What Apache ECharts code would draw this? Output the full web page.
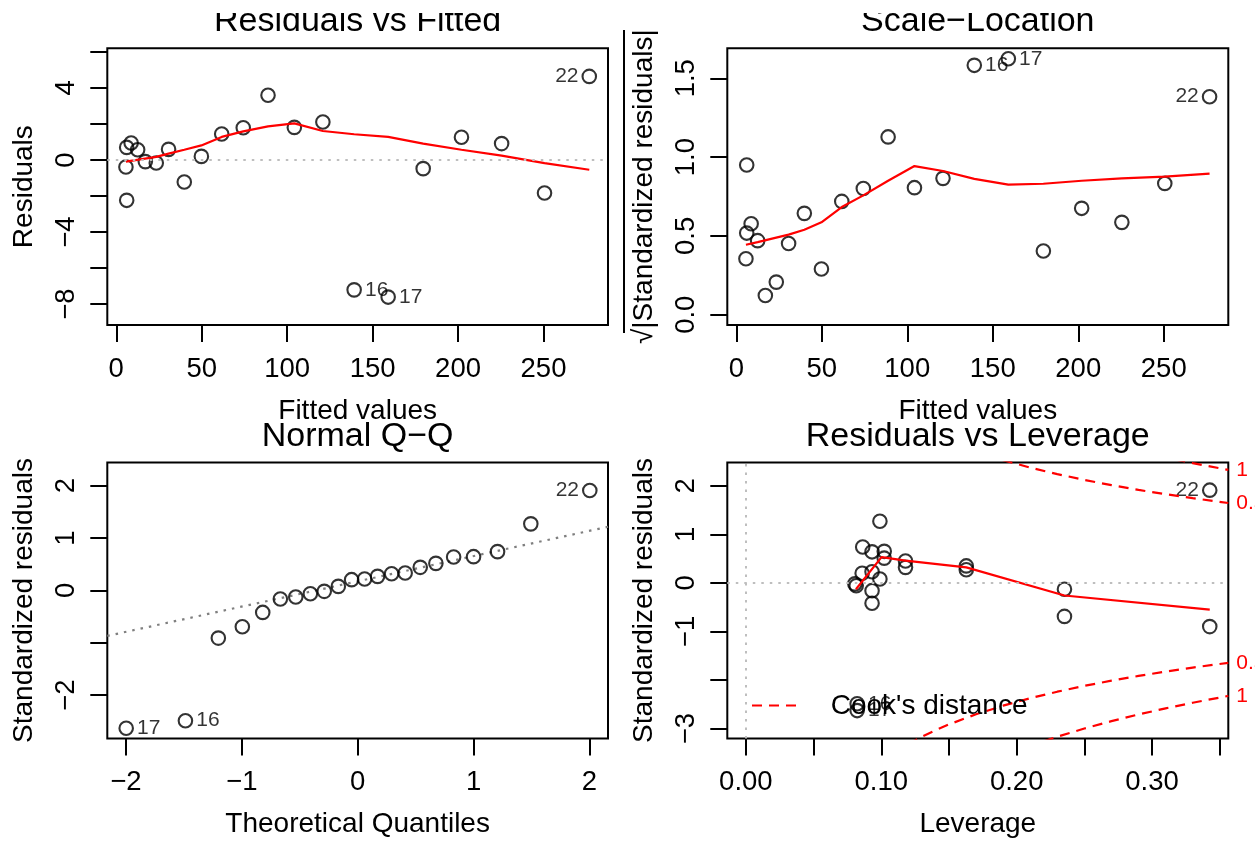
<!DOCTYPE html>
<html><head><meta charset="utf-8">
<script src="https://cdn.jsdelivr.net/npm/echarts@6/dist/echarts.min.js"></script>
<style>html,body{margin:0;padding:0;background:#fff}#c{width:1255px;height:842px}</style>
</head><body><div id="c"></div>
<script>
// ---------- Residuals vs Fitted / Scale-Location (shared fitted values) ----------
const fittedValues = [5.65, 6.1, 6.1, 8.7, 12.5, 17.0, 23.4, 30.6, 39.8, 49.8, 61.7, 74.3, 88.8, 104.2, 120.9, 139.2, 159.1, 179.6, 202.0, 225.5, 250.6, 276.8];
const residualValues = [-0.39, 0.70, -2.24, 0.94, 0.57, -0.09, -0.17, 0.59, -1.22, 0.20, 1.44, 1.79, 3.59, 1.81, 2.11, -7.21, -7.61, -0.48, 1.26, 0.91, -1.83, 4.64];
const sqrtAbsStdResiduals = [0.355, 0.518, 0.950, 0.577, 0.470, 0.122, 0.207, 0.452, 0.643, 0.290, 0.719, 0.801, 1.128, 0.806, 0.865, 1.582, 1.624, 0.404, 0.675, 0.586, 0.833, 1.383];
const fittedLabelIdx = [15, 16, 21];
const fittedLabelTxt = ['16', '17', '22'];

const smoothRvfX = [5.65, 23.4, 30.6, 39.8, 49.8, 61.7, 74.3, 88.8, 104.2, 120.9, 139.2, 159.1, 179.6, 202.0, 225.5, 250.6, 276.8];
const smoothRvfY = [-0.09, 0.17, 0.35, 0.57, 0.81, 1.28, 1.59, 1.87, 2.03, 1.61, 1.43, 1.28, 0.91, 0.57, 0.24, -0.17, -0.54];
const smoothSlX = [5.65, 12.5, 30.6, 39.8, 49.8, 61.7, 74.3, 88.8, 104.2, 120.9, 139.2, 159.1, 179.6, 202.0, 225.5, 250.6, 276.8];
const smoothSlY = [0.444, 0.461, 0.508, 0.539, 0.586, 0.683, 0.757, 0.850, 0.943, 0.912, 0.862, 0.825, 0.831, 0.850, 0.865, 0.876, 0.895];

// ---------- Normal Q-Q ----------
const qqTheoretical = [-1.997, -1.486, -1.202, -0.995, -0.819, -0.667, -0.534, -0.408, -0.288, -0.167, -0.052, 0.060, 0.172, 0.293, 0.410, 0.540, 0.675, 0.828, 1.000, 1.207, 1.494, 2.003];
const qqStdResiduals = [-2.631, -2.486, -0.910, -0.694, -0.420, -0.165, -0.127, -0.063, -0.018, 0.077, 0.205, 0.218, 0.268, 0.319, 0.333, 0.440, 0.516, 0.638, 0.644, 0.740, 1.270, 1.906];
const qqLabelIdx = [0, 1, 21];
const qqLabelTxt = ['17', '16', '22'];
const qqLineX = [-2.16, 2.16];
const qqLineY = [-0.868, 1.214];

// ---------- Residuals vs Leverage ----------
const leverageValues = [0.0990, 0.0863, 0.0932, 0.1022, 0.1022, 0.1179, 0.1179, 0.1628, 0.1628, 0.0859, 0.0932, 0.0990, 0.0805, 0.0815, 0.0932, 0.0932, 0.2353, 0.2353, 0.3426, 0.3426, 0.0822, 0.0822];
const leverageStdRes = [1.27, 0.74, 0.64, 0.65, 0.51, 0.45, 0.32, 0.35, 0.27, 0.20, 0.23, 0.08, -0.02, -0.06, -0.16, -0.42, -0.13, -0.69, -0.90, 1.91, -2.49, -2.63];
const levLabelIdx = [19, 20, 21];
const levLabelTxt = ['22', '16', '17'];
const smoothLevX = [0.0813, 0.1002, 0.1179, 0.1628, 0.2353, 0.3426];
const smoothLevY = [-0.13, 0.53, 0.46, 0.32, -0.26, -0.55];
const cookH = [0.12, 0.13, 0.14, 0.15, 0.17, 0.19, 0.21, 0.23, 0.25, 0.27, 0.29, 0.31, 0.33, 0.3563];
const cookHalf = [3.317, 3.168, 3.036, 2.915, 2.706, 2.529, 2.375, 2.241, 2.121, 2.014, 1.916, 1.827, 1.745, 1.646];
const cookOne = [4.690, 4.481, 4.293, 4.123, 3.827, 3.576, 3.360, 3.169, 3.000, 2.848, 2.710, 2.584, 2.468, 2.328];
const cookLevelY = [2.328, 1.646, -1.646, -2.328];
const cookLevelTxt = ['1', '0.5', '0.5', '1'];

// ---------- axis ticks / labels ----------
const rvfXTicks = [0, 50, 100, 150, 200, 250];
const rvfYTicks = [-8, -6, -4, -2, 0, 2, 4, 6];
const rvfYLabels = [-8, -4, 0, 4];
const slYTicks = [0, 0.5, 1, 1.5];
const qqXTicks = [-2, -1, 0, 1, 2];
const qqYTicks = [-2, -1, 0, 1, 2];
const qqYLabels = [-2, 0, 1, 2];
const levXTicks = [0, 0.05, 0.1, 0.15, 0.2, 0.25, 0.3, 0.35];
const levXLabels = [0, 0.1, 0.2, 0.3];
const levYTicks = [-3, -2, -1, 0, 1, 2];
const levYLabels = [-3, -1, 0, 1, 2];

const titles = ['Residuals vs Fitted', 'Scale\u2212Location', 'Normal Q\u2212Q', 'Residuals vs Leverage'];

const FONT = "'Liberation Sans', Arial, Helvetica, sans-serif";
const TICKFS = 27.5, NAMEFS = 28, TITLEFS = 34, IDFS = 21;

function fmt(dec) {
  return v => (dec == null ? String(v) : Number(v).toFixed(dec)).replace('-', '\u2212');
}
function xAxis(gi, min, max, ticks, labels, dec, name) {
  return {
    type: 'value', gridIndex: gi, min, max, name, nameLocation: 'middle', nameGap: 72,
    nameMoveOverlap: false, position: 'bottom',
    nameTextStyle: { color: '#000', fontSize: NAMEFS, fontFamily: FONT },
    splitLine: { show: false }, axisLine: { show: false, onZero: false },
    axisTick: { show: true, inside: false, length: 17, customValues: ticks, lineStyle: { color: '#000', width: 2 } },
    axisLabel: { show: true, customValues: labels, formatter: fmt(dec), color: '#000', fontSize: TICKFS, fontFamily: FONT, margin: 30, hideOverlap: false }
  };
}
function yAxis(gi, min, max, ticks, labels, dec, name) {
  return {
    type: 'value', gridIndex: gi, min, max, name, nameLocation: 'middle', nameGap: 69, nameRotate: 90,
    nameMoveOverlap: false, position: 'left',
    nameTextStyle: { color: '#000', fontSize: NAMEFS, fontFamily: FONT },
    splitLine: { show: false }, axisLine: { show: false, onZero: false },
    axisTick: { show: true, inside: false, length: 17, customValues: ticks, lineStyle: { color: '#000', width: 2 } },
    axisLabel: { show: true, customValues: labels, formatter: fmt(dec), rotate: 90, color: '#000', fontSize: TICKFS, fontFamily: FONT, margin: 27, hideOverlap: false }
  };
}
function scatter(ai, xs, ys, lblIdx, lblTxt, lblPos, lblDy, zeroLines) {
  const data = xs.map((x, i) => {
    const k = lblIdx.indexOf(i);
    const item = { value: [x, ys[i]] };
    if (k >= 0) item.label = { show: true, formatter: lblTxt[k], position: lblPos[k], distance: 3, offset: [0, lblDy[k]], color: '#000', fontSize: IDFS, fontFamily: FONT };
    return item;
  });
  const s = {
    type: 'scatter', xAxisIndex: ai, yAxisIndex: ai, data, symbol: 'circle', symbolSize: 13.5,
    itemStyle: { color: 'rgba(0,0,0,0)', borderColor: '#000', borderWidth: 2.1 },
    silent: true, z: 3, label: { show: false }, labelLayout: { hideOverlap: false }
  };
  if (zeroLines) s.markLine = {
    silent: true, symbol: ['none', 'none'], label: { show: false },
    lineStyle: { color: '#BEBEBE', type: [2.5, 6], width: 2 }, data: zeroLines
  };
  return s;
}
function line(ai, xs, ys, color, type, z) {
  return {
    type: 'line', xAxisIndex: ai, yAxisIndex: ai, data: xs.map((x, i) => [x, ys[i]]),
    showSymbol: false, symbol: 'none', silent: true, z: z || 4, clip: true,
    lineStyle: { color, width: 2.2, type: type || 'solid' }
  };
}

const grids = [
  { left: 107.3, top: 48.3, width: 500.7, height: 276.7 },
  { left: 727.3, top: 48.3, width: 501, height: 276.7 },
  { left: 107.3, top: 462.5, width: 500.7, height: 276 },
  { left: 727.3, top: 462.5, width: 501, height: 276 }
].map(g => Object.assign(g, { show: true, borderColor: '#000', borderWidth: 2, backgroundColor: 'transparent', containLabel: false, outerBoundsMode: 'none' }));

const titlePos = [[357.6, 21.8], [977.8, 21.8], [357.6, 436.8], [977.8, 436.8]];

// right-side axis carrying the Cook's distance level labels
const cookAxis = {
  type: 'value', gridIndex: 3, min: -3.205, max: 2.48, position: 'right',
  splitLine: { show: false }, axisLine: { show: false, onZero: false }, axisTick: { show: false },
  axisLabel: {
    show: true, customValues: cookLevelY, margin: 8, color: '#FF0000', fontSize: IDFS, fontFamily: FONT, hideOverlap: false,
    formatter: v => { let b = 0; cookLevelY.forEach((y, i) => { if (Math.abs(y - v) < Math.abs(cookLevelY[b] - v)) b = i; }); return cookLevelTxt[b]; }
  }
};

const option = {
  animation: false,
  backgroundColor: '#fff',
  textStyle: { fontFamily: FONT },
  grid: grids,
  xAxis: [
    xAxis(0, -5.25, 287.75, rvfXTicks, rvfXTicks, null, 'Fitted values'),
    xAxis(1, -5.25, 287.75, rvfXTicks, rvfXTicks, null, 'Fitted values'),
    xAxis(2, -2.16, 2.16, qqXTicks, qqXTicks, null, 'Theoretical Quantiles'),
    xAxis(3, -0.0137, 0.3563, levXTicks, levXLabels, 2, 'Leverage')
  ],
  yAxis: [
    yAxis(0, -9.16, 6.20, rvfYTicks, rvfYLabels, null, 'Residuals'),
    yAxis(1, -0.065, 1.69, slYTicks, slYTicks, 1, '\u221A|Standardized residuals|'),
    yAxis(2, -2.826, 2.441, qqYTicks, qqYLabels, null, 'Standardized residuals'),
    yAxis(3, -3.205, 2.48, levYTicks, levYLabels, null, 'Standardized residuals'),
    cookAxis
  ],
  series: [
    scatter(0, fittedValues, residualValues, fittedLabelIdx, fittedLabelTxt, ['right', 'right', 'left'], [6, 8, 0], [{ yAxis: 0 }]),
    line(0, smoothRvfX, smoothRvfY, '#FF0000'),
    scatter(1, fittedValues, sqrtAbsStdResiduals, fittedLabelIdx, fittedLabelTxt, ['right', 'right', 'left'], [0, 0, 0]),
    line(1, smoothSlX, smoothSlY, '#FF0000'),
    scatter(2, qqTheoretical, qqStdResiduals, qqLabelIdx, qqLabelTxt, ['right', 'right', 'left'], [0, 0, 0]),
    line(2, qqLineX, qqLineY, '#7F7F7F', [2.5, 6], 2),
    scatter(3, leverageValues, leverageStdRes, levLabelIdx, levLabelTxt, ['left', 'right', 'right'], [0, 4, 6], [{ yAxis: 0 }, { xAxis: 0 }]),
    line(3, smoothLevX, smoothLevY, '#FF0000'),
    line(3, cookH, cookHalf, '#FF0000', [10, 7]),
    line(3, cookH, cookHalf.map(v => -v), '#FF0000', [10, 7]),
    line(3, cookH, cookOne, '#FF0000', [10, 7]),
    line(3, cookH, cookOne.map(v => -v), '#FF0000', [10, 7])
  ],
  graphic: { elements: [
    ...titles.map((t, i) => ({ type: 'text', x: titlePos[i][0], y: titlePos[i][1], z: 50,
      style: { text: t, fill: '#000', font: `${TITLEFS}px ${FONT}`, align: 'center', verticalAlign: 'middle', textAlign: 'center', textVerticalAlign: 'middle' } })),
    { type: 'rect', z: 60, shape: { x: 0, y: 0, width: 1255, height: 13 }, style: { fill: '#fff' } },
    { type: 'line', z: 50, shape: { x1: 624, y1: 30, x2: 624, y2: 333 }, style: { stroke: '#000', lineWidth: 2 } },
    { type: 'line', z: 50, shape: { x1: 752, y1: 705.5, x2: 797, y2: 705.5 }, style: { stroke: '#FF0000', lineWidth: 2, lineDash: [10, 7] } },
    { type: 'text', z: 50, x: 830.7, y: 706, style: { text: "Cook's distance", fill: '#000', font: `${NAMEFS}px ${FONT}`, align: 'left', verticalAlign: 'middle', textAlign: 'left', textVerticalAlign: 'middle' } }
  ] }
};
const chart = echarts.init(document.getElementById('c'), null, { renderer: 'canvas' });
chart.setOption(option);
</script>
</body></html>
